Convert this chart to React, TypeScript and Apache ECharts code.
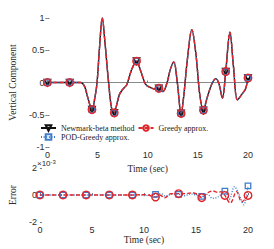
import React, { useEffect, useRef } from "react";
import * as echarts from "echarts";

// Top panel: vertical component (normalised) vs time (sec)
const topTime = [0, 2.222, 3.3, 3.7, 4.0, 4.444, 4.75, 4.95, 5.2, 5.47, 5.75, 6.1, 6.4, 6.667, 6.9, 7.2, 7.6, 7.9, 8.4, 8.889, 9.3, 9.8, 10.3, 10.7, 11.111, 11.5, 11.9, 12.25, 12.6, 12.95, 13.333, 13.6, 13.95, 14.4, 14.8, 15.2, 15.556, 15.9, 16.4, 16.8, 17.1, 17.45, 17.778, 18.2, 18.55, 18.95, 19.4, 19.75, 20];
const verticalNewmark = [0, 0, 0, -0.06, -0.22, -0.42, -0.22, 0.0, 0.55, 1.0, 0.6, 0.0, -0.4, -0.47, -0.35, -0.18, -0.09, -0.04, 0.2, 0.33, 0.18, -0.03, -0.08, -0.1, -0.09, -0.14, -0.02, 0.2, 0.32, 0.0, -0.48, -0.2, 0.35, 0.82, 0.45, -0.2, -0.43, -0.25, -0.02, 0.06, -0.02, -0.24, 0.17, 0.78, 0.25, -0.27, -0.18, -0.1, 0.07];
// approximations are indistinguishable from the reference at this scale
const verticalPod = verticalNewmark;
const verticalGreedy = verticalNewmark;

// Bottom panel: error (x 10^-3)
const errTimeGreedy = [0, 2.222, 4.444, 6.667, 8.889, 9.8, 10.4, 10.8, 11.111, 11.5, 12.0, 12.6, 13.333, 14.0, 14.7, 15.2, 15.556, 16.1, 16.6, 17.1, 17.5, 17.778, 18.3, 18.9, 19.4, 20];
const errGreedy = [0, 0, 0, 0, 0, 0.02, 0, -0.1, -0.15, 0, -0.2, 0.1, 0.1, 0.1, 0.17, 0, -0.2, 0.15, 0.3, 0.2, 0.25, -0.03, -0.6, 0.25, -0.5, -0.03];
const errTimePod = [0, 2.222, 4.444, 6.667, 8.889, 9.5, 10.2, 10.8, 11.111, 11.6, 12.1, 12.6, 13.333, 13.9, 14.5, 15.0, 15.556, 16.1, 16.6, 17.1, 17.778, 18.2, 18.7, 19.1, 19.6, 20];
const errPod = [0, 0, 0, 0, 0, 0.02, -0.05, 0.05, 0.05, 0.1, -0.1, 0.05, 0.05, -0.05, 0.08, 0, -0.1, 0.05, -0.25, -0.15, 0.28, -0.3, 0.62, 0.1, -0.72, 0.67];

const markerTimes = [0, 2.222, 4.444, 6.667, 8.889, 11.111, 13.333, 15.556, 17.778, 20];

const topTicks = [-1, -0.5, 0, 0.5, 1];
const errTicks = [-2, 0, 2];
const timeTicks = [0, 5, 10, 15, 20];

const RED = "#e0262c";
const BLUE = "#3f7dcc";
const BLACK = "#111111";
const SERIF = "'Liberation Serif', 'DejaVu Serif', serif";
const SANS = "'Liberation Sans', Arial, sans-serif";

function build(times: number[], vals: number[]) {
  return times.map((t, i) =>
    markerTimes.some((m) => Math.abs(m - t) < 1e-6)
      ? { value: [t, vals[i]] }
      : { value: [t, vals[i]], symbol: "none" }
  );
}

export default function App() {
  const ref = useRef<HTMLDivElement>(null);
  useEffect(() => {
    if (!ref.current) return;
    const chart = echarts.init(ref.current, undefined, { renderer: "svg" });
    const tickLabel = { color: "#2b2b2b", fontSize: 9, fontFamily: SANS };
    const tick = { show: true, inside: true, length: 2, lineStyle: { color: "#777" } };
    const xCommon = (gridIndex: number, nameGap: number) => ({
      type: "value",
      gridIndex,
      min: timeTicks[0],
      max: timeTicks[timeTicks.length - 1],
      interval: 5,
      name: "Time (sec)",
      nameLocation: "middle",
      nameGap,
      nameTextStyle: { fontFamily: SERIF, fontSize: 9.5, color: "#2b2b2b" },
      axisLine: { show: false },
      axisTick: tick,
      axisLabel: { ...tickLabel, margin: 3 },
      splitLine: { show: false },
    });
    const symbolStyle = (c: string, w = 1.3) => ({ color: "rgba(255,255,255,0)", borderColor: c, borderWidth: w });
    chart.setOption({
      animation: false,
      grid: [
        { left: 36, top: 18, width: 212, height: 129 },
        { left: 36, top: 168, width: 212, height: 54 },
      ],
      xAxis: [
        xCommon(0, 11),
        xCommon(1, 13),
        {
          type: "value", gridIndex: 0, position: "top", min: 0, max: 20,
          axisLine: { show: true, lineStyle: { color: "#8a8a8a", width: 1 } },
          axisTick: { show: false }, axisLabel: { show: false }, splitLine: { show: false },
        },
      ],
      yAxis: [
        {
          type: "value", gridIndex: 0, min: topTicks[0], max: topTicks[topTicks.length - 1], interval: 0.5,
          name: "Vertical Component", nameLocation: "middle", nameGap: 19,
          nameTextStyle: { fontFamily: SERIF, fontSize: 9.5, color: "#2b2b2b" },
          axisLine: { show: false }, axisTick: tick, axisLabel: { ...tickLabel, margin: 3 }, splitLine: { show: false },
        },
        {
          type: "value", gridIndex: 1, min: errTicks[0], max: errTicks[errTicks.length - 1], interval: 2,
          name: "Error", nameLocation: "middle", nameGap: 13,
          nameTextStyle: { fontFamily: SERIF, fontSize: 9.5, color: "#2b2b2b" },
          axisLine: { show: false }, axisTick: tick, axisLabel: { ...tickLabel, margin: 3 }, splitLine: { show: false },
        },
        {
          type: "value", gridIndex: 0, position: "right", min: -1, max: 1, interval: 0.5,
          axisLine: { show: false }, axisTick: tick, axisLabel: { show: false }, splitLine: { show: false },
        },
      ],
      legend: [
        {
          data: ["Newmark-beta method", "Greedy approx."],
          left: 40, top: 124, itemWidth: 15, itemHeight: 7, itemGap: 3, padding: 0,
          textStyle: { fontFamily: SERIF, fontSize: 8, color: "#222" },
        },
        {
          data: ["POD-Greedy approx."],
          left: 40, top: 133, itemWidth: 15, itemHeight: 7, itemGap: 3, padding: 0,
          textStyle: { fontFamily: SERIF, fontSize: 8, color: "#222" },
        },
      ],
      series: [
        {
          name: "Newmark-beta method", type: "line", xAxisIndex: 0, yAxisIndex: 0,
          data: build(topTime, verticalNewmark), smooth: 0.35, clip: false,
          showSymbol: true, showAllSymbol: true,
          symbol: "triangle", symbolRotate: 180, symbolSize: 6,
          color: BLACK, itemStyle: symbolStyle(BLACK, 1.7),
          lineStyle: { color: BLACK, width: 1.4, type: "solid" },
        },
        {
          name: "POD-Greedy approx.", type: "line", xAxisIndex: 0, yAxisIndex: 0,
          data: build(topTime, verticalPod), smooth: 0.35, clip: false,
          showSymbol: true, showAllSymbol: true,
          symbol: "rect", symbolSize: 5.5,
          color: BLUE, itemStyle: symbolStyle(BLUE),
          lineStyle: { color: BLUE, width: 1.4, type: [1, 1.6] },
        },
        {
          name: "Greedy approx.", type: "line", xAxisIndex: 0, yAxisIndex: 0,
          data: build(topTime, verticalGreedy), smooth: 0.35, clip: false,
          showSymbol: true, showAllSymbol: true,
          symbol: "circle", symbolSize: 7.5,
          color: RED, itemStyle: symbolStyle(RED, 1.4),
          lineStyle: { color: RED, width: 1.4, type: [4, 2] },
        },
        {
          name: "POD-Greedy approx.", type: "line", xAxisIndex: 1, yAxisIndex: 1,
          data: build(errTimePod, errPod), smooth: 0.35, clip: false,
          showSymbol: true, showAllSymbol: true,
          symbol: "rect", symbolSize: 5.5,
          color: BLUE, itemStyle: symbolStyle(BLUE),
          lineStyle: { color: BLUE, width: 1.4, type: [1, 1.6] },
        },
        {
          name: "Greedy approx.", type: "line", xAxisIndex: 1, yAxisIndex: 1,
          data: build(errTimeGreedy, errGreedy), smooth: 0.35, clip: false,
          showSymbol: true, showAllSymbol: true,
          symbol: "circle", symbolSize: 7.5,
          color: RED, itemStyle: symbolStyle(RED, 1.4),
          lineStyle: { color: RED, width: 1.4, type: [4, 2] },
        },
      ],
      graphic: [
        {
          type: "text", left: 37, top: 159,
          style: {
            text: "{a|×10}{b|-3}",
            rich: {
              a: { fontFamily: SANS, fontSize: 8, fill: "#2b2b2b", verticalAlign: "bottom" },
              b: { fontFamily: SANS, fontSize: 6, fill: "#2b2b2b", verticalAlign: "top" },
            },
          },
        },
      ],
    });
    return () => chart.dispose();
  }, []);
  return <div ref={ref} style={{ width: 274, height: 249, position: "absolute", left: 0, top: 0 }} />;
}
